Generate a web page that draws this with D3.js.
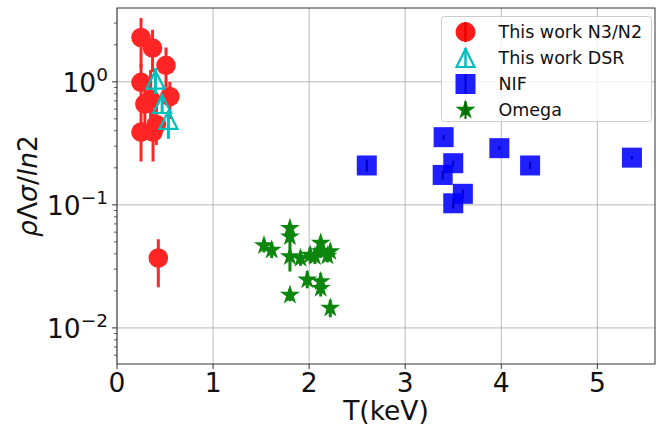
<!DOCTYPE html>
<html>
<head>
<meta charset="utf-8">
<script src="https://cdn.jsdelivr.net/npm/d3@7"></script>
<style>
  html, body { margin: 0; padding: 0; background: #fff; }
  svg { display: block; font-family: "DejaVu Sans", sans-serif; }
</style>
</head>
<body>
<svg id="chart" width="668" height="430"></svg>
<script>
// ---- Data ----
// This work N3/N2 (red circles)
const n3Temp = [0.25, 0.37, 0.51, 0.25, 0.55, 0.29, 0.35, 0.41, 0.25, 0.375, 0.43];
const n3Val  = [2.29, 1.88, 1.36, 0.99, 0.76, 0.66, 0.72, 0.45, 0.39, 0.39, 0.037];
const n3Lo   = [1.3, 1.2, 0.9, 0.6, 0.5, 0.35, 0.4, 0.307, 0.225, 0.225, 0.0214];
const n3Hi   = [3.3, 2.65, 1.9, 1.4, 1.0, 0.9, 1.25, 0.65, 0.6, 0.6, 0.0526];
// This work DSR (cyan triangles)
const dsrTemp = [0.40, 0.47, 0.535];
const dsrVal  = [1.04, 0.66, 0.49];
const dsrLo   = [0.8, 0.55, 0.344];
const dsrHi   = [1.29, 0.78, 0.57];
// NIF (blue squares)
const nifTemp = [2.60, 3.40, 3.50, 3.39, 3.60, 3.50, 3.98, 4.30, 5.36];
const nifVal  = [0.209, 0.355, 0.218, 0.175, 0.123, 0.103, 0.289, 0.209, 0.242];
const nifLo   = [0.187, 0.340, 0.208, 0.160, 0.113, 0.093, 0.279, 0.195, 0.234];
const nifHi   = [0.233, 0.370, 0.228, 0.190, 0.133, 0.113, 0.299, 0.223, 0.250];
// Omega (green stars)
const omTemp = [1.80, 1.80, 1.53, 1.61, 1.80, 1.91, 2.01, 2.12, 2.12, 2.22, 1.98, 2.12, 2.12, 1.80, 2.22, 2.06, 2.19];
const omVal  = [0.0647, 0.0552, 0.0467, 0.043, 0.038, 0.0369, 0.0392, 0.0489, 0.0417, 0.0417, 0.0246, 0.0238, 0.021, 0.0185, 0.0145, 0.038, 0.0385];
const omLo   = [0.058, 0.050, 0.041, 0.037, 0.0287, 0.032, 0.034, 0.043, 0.037, 0.036, 0.021, 0.020, 0.018, 0.0165, 0.0122, 0.033, 0.034];
const omHi   = [0.069, 0.061, 0.052, 0.049, 0.069, 0.042, 0.045, 0.055, 0.047, 0.047, 0.029, 0.028, 0.024, 0.0205, 0.0169, 0.044, 0.044];

const xTicks = [0, 1, 2, 3, 4, 5];
const yTicks = [0.01, 0.1, 1];
const yTickExp = ["\u22122", "\u22121", "0"];
const legendLabels = ["This work N3/N2", "This work DSR", "NIF", "Omega"];

// ---- Layout ----
const L = 117, R = 655, T = 8, B = 364;
const svg = d3.select("#chart");
const x = d3.scaleLinear().domain([0, 5.6]).range([L, R]);
const y = d3.scaleLog().domain([0.00509, 3.98]).range([B, T]);

// grid
const grid = svg.append("g");
xTicks.forEach(t => {
  grid.append("line").attr("x1", x(t)).attr("x2", x(t)).attr("y1", T).attr("y2", B)
    .attr("stroke", "#b0b0b0").attr("stroke-width", 0.9);
});
yTicks.forEach(t => {
  grid.append("line").attr("x1", L).attr("x2", R).attr("y1", y(t)).attr("y2", y(t))
    .attr("stroke", "#b0b0b0").attr("stroke-width", 0.9);
});

// clip
svg.append("clipPath").attr("id", "clip").append("rect")
  .attr("x", L).attr("y", T).attr("width", R - L).attr("height", B - T);
const plot = svg.append("g").attr("clip-path", "url(#clip)");

function starPath(Ro) {
  const ri = Ro * 0.381966;
  const pts = [];
  for (let i = 0; i < 10; i++) {
    const a = -Math.PI / 2 + i * Math.PI / 5;
    const rr = i % 2 === 0 ? Ro : ri;
    pts.push([rr * Math.cos(a), rr * Math.sin(a)]);
  }
  return "M" + pts.map(p => p[0].toFixed(2) + "," + p[1].toFixed(2)).join("L") + "Z";
}
const triPath = "M0,-9L-9,9L9,9Z";

// N3/N2
const gN3 = plot.append("g").attr("opacity", 0.85);
n3Temp.forEach((t, i) => {
  gN3.append("line").attr("x1", x(t)).attr("x2", x(t)).attr("y1", y(n3Lo[i])).attr("y2", y(n3Hi[i]))
    .attr("stroke", "#ff0000").attr("stroke-width", 3);
  gN3.append("circle").attr("cx", x(t)).attr("cy", y(n3Val[i])).attr("r", 9.8).attr("fill", "#ff0000");
});
// DSR
const gD = plot.append("g");
dsrTemp.forEach((t, i) => {
  gD.append("line").attr("x1", x(t)).attr("x2", x(t)).attr("y1", y(dsrLo[i])).attr("y2", y(dsrHi[i]))
    .attr("stroke", "#00bfbf").attr("stroke-width", 3);
  gD.append("path").attr("d", triPath).attr("transform", `translate(${x(t)},${y(dsrVal[i])})`)
    .attr("fill", "none").attr("stroke", "#00bfbf").attr("stroke-width", 2.2);
});
// NIF
const gN = plot.append("g");
nifTemp.forEach((t, i) => {
  gN.append("rect").attr("x", x(t) - 10).attr("y", y(nifVal[i]) - 10).attr("width", 20).attr("height", 20)
    .attr("fill", "#0000ff").attr("fill-opacity", 0.88);
  gN.append("line").attr("x1", x(t)).attr("x2", x(t)).attr("y1", y(nifLo[i])).attr("y2", y(nifHi[i]))
    .attr("stroke", "#0000b0").attr("stroke-width", 2);
});
// Omega
const gO = plot.append("g").attr("opacity", 0.95);
omTemp.forEach((t, i) => {
  gO.append("line").attr("x1", x(t)).attr("x2", x(t)).attr("y1", y(omLo[i])).attr("y2", y(omHi[i]))
    .attr("stroke", "#008000").attr("stroke-width", 3);
  gO.append("path").attr("d", starPath(10.5)).attr("transform", `translate(${x(t)},${y(omVal[i])})`)
    .attr("fill", "#008000");
});

// spines
svg.append("rect").attr("x", L).attr("y", T).attr("width", R - L).attr("height", B - T)
  .attr("fill", "none").attr("stroke", "#333").attr("stroke-width", 1);

// x ticks
xTicks.forEach(t => {
  svg.append("line").attr("x1", x(t)).attr("x2", x(t)).attr("y1", B).attr("y2", B + 5)
    .attr("stroke", "#333").attr("stroke-width", 1);
  svg.append("text").attr("x", x(t)).attr("y", 392).attr("text-anchor", "middle")
    .attr("font-size", 26.5).attr("fill", "#111").text(t);
});
// y ticks major + minor
yTicks.forEach((t, i) => {
  svg.append("line").attr("x1", L - 5).attr("x2", L).attr("y1", y(t)).attr("y2", y(t))
    .attr("stroke", "#333").attr("stroke-width", 1);
  const tx = svg.append("text").attr("x", 108).attr("y", y(t) + 10).attr("text-anchor", "end")
    .attr("font-size", 26.5).attr("fill", "#111");
  tx.append("tspan").text("10");
  tx.append("tspan").attr("dy", -11).attr("font-size", 18.5).text(yTickExp[i]);
});
[0.001, 0.01, 0.1, 1].forEach(d => {
  for (let k = 2; k <= 9; k++) {
    const v = k * d;
    if (v < 0.00509 || v > 3.98) continue;
    svg.append("line").attr("x1", L - 3).attr("x2", L).attr("y1", y(v)).attr("y2", y(v))
      .attr("stroke", "#333").attr("stroke-width", 0.8);
  }
});

// axis labels
svg.append("text").attr("x", (L + R) / 2).attr("y", 420).attr("text-anchor", "middle")
  .attr("font-size", 26.5).attr("fill", "#111").text("T(keV)");
const yl = svg.append("text").attr("transform", `translate(37,${(T + B) / 2}) rotate(-90)`)
  .attr("text-anchor", "middle").attr("font-size", 26.5).attr("fill", "#111");
yl.append("tspan").attr("font-style", "italic").text("ρ");
yl.append("tspan").text("Λ");
yl.append("tspan").attr("font-style", "italic").text("σ");
yl.append("tspan").text("/");
yl.append("tspan").attr("font-style", "italic").text("ln");
yl.append("tspan").text("2");

// legend
const lg = svg.append("g");
lg.append("rect").attr("x", 441.5).attr("y", 16.5).attr("width", 210).attr("height", 105).attr("rx", 3)
  .attr("fill", "#fff").attr("fill-opacity", 0.8).attr("stroke", "#cccccc").attr("stroke-width", 1);
const ly = [32, 58, 84, 110];
const mx = 465.5;
// red
lg.append("circle").attr("cx", mx).attr("cy", ly[0]).attr("r", 10).attr("fill", "#ff0000").attr("opacity", 0.9);
lg.append("line").attr("x1", mx).attr("x2", mx).attr("y1", ly[0] - 10).attr("y2", ly[0] + 10)
  .attr("stroke", "#e00000").attr("stroke-width", 2);
// cyan
lg.append("line").attr("x1", mx).attr("x2", mx).attr("y1", ly[1] - 10).attr("y2", ly[1] + 10)
  .attr("stroke", "#00bfbf").attr("stroke-width", 2.5);
lg.append("path").attr("d", triPath).attr("transform", `translate(${mx},${ly[1]})`)
  .attr("fill", "none").attr("stroke", "#00bfbf").attr("stroke-width", 2.2);
// blue
lg.append("rect").attr("x", mx - 10).attr("y", ly[2] - 10).attr("width", 20).attr("height", 20)
  .attr("fill", "#0000ff").attr("fill-opacity", 0.88);
lg.append("line").attr("x1", mx).attr("x2", mx).attr("y1", ly[2] - 10).attr("y2", ly[2] + 10)
  .attr("stroke", "#0000d0").attr("stroke-width", 2);
// green
lg.append("path").attr("d", starPath(10.5)).attr("transform", `translate(${mx},${ly[3]})`).attr("fill", "#008000");
lg.append("line").attr("x1", mx).attr("x2", mx).attr("y1", ly[3] - 9).attr("y2", ly[3] + 9)
  .attr("stroke", "#006000").attr("stroke-width", 2);
legendLabels.forEach((s, i) => {
  lg.append("text").attr("x", 498.5).attr("y", ly[i] + 6.3).attr("font-size", 17.5).attr("fill", "#111").text(s);
});
</script>
</body>
</html>
